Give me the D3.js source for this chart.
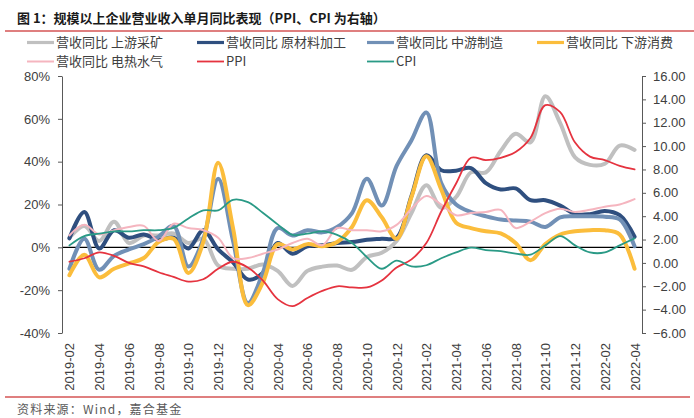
<!DOCTYPE html>
<html><head><meta charset="utf-8">
<script src="https://cdn.jsdelivr.net/npm/d3@7"></script>
<style>
body{margin:0;background:#fff}
text{font-family:Arial,"Liberation Sans","Noto Sans CJK SC",sans-serif}
.cjk{font-family:"Noto Sans CJK SC",sans-serif}
</style>
</head><body><svg id="c" width="694" height="418"></svg>
<script>
// ---- data ----
const months = ["2019-02","2019-03","2019-04","2019-05","2019-06","2019-07","2019-08","2019-09","2019-10","2019-11","2019-12",
"2020-01","2020-02","2020-03","2020-04","2020-05","2020-06","2020-07","2020-08","2020-09","2020-10","2020-11","2020-12",
"2021-01","2021-02","2021-03","2021-04","2021-05","2021-06","2021-07","2021-08","2021-09","2021-10","2021-11","2021-12",
"2022-01","2022-02","2022-03","2022-04"];
const upstream = [4.5,10,3,12,2,5.5,5.5,6.5,2,4,-8.5,-10,-10,-8,-11,-18,-11,-9,-8.5,-10.5,-4.5,-2.5,3,16,29,18.5,23.5,35,35,45,53,49,70.5,58,42,38.5,39,47.5,45.5];
const rawMaterial = [4.2,16.5,-0.5,8,4.5,6,3.5,4.5,-0.5,8,-1,-7,-15,-12,2,-3,0.5,1,2,2.5,3.5,4,4.5,24,43,36,35.8,37,30,27,27.5,22,22,19.5,15.5,15.5,17,15,5];
const midstream = [-10,4,-10.5,-4,-1,1.5,5,10,-9,4,32,3,-26,-12,9,5.5,8,7,9.5,16,32,19.5,38,50,63,30,20,16.5,14.5,13,12.5,12,9.5,14,14.5,14.5,14.3,13,0.5];
const downstream = [-13,-3.5,-14,-10,-7.5,-5,2.5,4,-12,2.5,39.5,9,-27,-16.5,1.5,-1,1.5,0.5,2.5,9.5,22,14,4,23.5,42.5,27,11.5,9,7.5,6.5,2,-6,1.5,6,7.5,8,8,6,-10];
const utilities = [5.5,10.5,6,8,9.5,10,3,11,9,8,4.5,-5,-5,-3,-1,2,4,1,9,8,8,7.5,10.5,18,24,20,15,16,16.5,17.5,9,12,16,18,16.5,17.5,19,20,22.5];
const ppi = [0.1,0.4,0.9,0.6,0.0,-0.3,-0.8,-1.2,-1.6,-1.4,-0.5,0.1,-0.4,-1.5,-3.1,-3.7,-3.0,-2.4,-2.0,-2.1,-2.1,-1.5,-0.4,0.3,1.7,4.4,6.8,9.0,8.8,9.0,9.5,10.7,13.5,12.9,10.3,9.1,8.8,8.3,8.0];
const cpi = [1.5,2.3,2.5,2.7,2.7,2.8,2.8,3.0,3.8,4.5,4.5,5.4,5.2,4.3,3.3,2.4,2.5,2.7,2.4,1.7,0.5,-0.5,0.2,-0.3,-0.2,0.4,0.9,1.3,1.1,1.0,0.8,0.7,1.5,2.3,1.5,0.9,0.9,1.5,2.1];
const leftTicks = [80,60,40,20,0,-20,-40];
const rightTicks = [16,14,12,10,8,6,4,2,0,-2,-4,-6];
const xTickLabels = ["2019-02","2019-04","2019-06","2019-08","2019-10","2019-12","2020-02","2020-04","2020-06","2020-08","2020-10","2020-12","2021-02","2021-04","2021-06","2021-08","2021-10","2021-12","2022-02","2022-04"];
const titleText = "图 1：规模以上企业营业收入单月同比表现（PPI、CPI 为右轴）";
const sourceText = "资料来源：Wind，嘉合基金";

const series = [
  {name:"营收同比 上游采矿", values:upstream, color:"#c0c0c0", w:4, axis:"L"},
  {name:"营收同比 原材料加工", values:rawMaterial, color:"#2f4f7f", w:4, axis:"L"},
  {name:"营收同比 中游制造", values:midstream, color:"#7190b6", w:4, axis:"L"},
  {name:"营收同比 下游消费", values:downstream, color:"#fbbd3c", w:4, axis:"L"},
  {name:"营收同比 电热水气", values:utilities, color:"#f5b5bf", w:2, axis:"L"},
  {name:"PPI", values:ppi, color:"#e5333f", w:1.8, axis:"R"},
  {name:"CPI", values:cpi, color:"#2a9a86", w:1.8, axis:"R"}
];

// ---- chart ----
const svg = d3.select("#c");
const x = d3.scalePoint().domain(months).range([62,642]).padding(0.5);
const yL = d3.scaleLinear().domain([-40,80]).range([333,76]);
const yR = d3.scaleLinear().domain([-6,16]).range([333,76]);
const axisColor = "#595959";

// title
svg.append("text").attr("class","cjk").attr("x",17).attr("y",23)
  .attr("font-size",13).attr("font-weight",700).attr("fill","#1a1a1a").text(titleText);
svg.append("line").attr("x1",5).attr("x2",694).attr("y1",31).attr("y2",31).attr("stroke","#c00000").attr("stroke-width",1.2);

// legend
const legPos = [[27,47],[197,47],[367,47],[537,47],[27,66],[197,66],[367,66]];
series.forEach((s,i)=>{
  const [lx,ly] = legPos[i];
  svg.append("line").attr("x1",lx).attr("x2",lx+27).attr("y1",ly-4.5).attr("y2",ly-4.5)
    .attr("stroke",s.color).attr("stroke-width",Math.min(s.w,3.2));
  svg.append("text").attr("class","cjk").attr("x",lx+29).attr("y",ly).attr("font-size",13)
    .attr("fill","#404040").text(s.name);
});

// zero line
svg.append("line").attr("x1",62).attr("x2",642).attr("y1",yL(0)).attr("y2",yL(0))
  .attr("stroke","#000").attr("stroke-width",1.3);

// axes
const gL = svg.append("g").attr("transform","translate(62,0)")
  .call(d3.axisLeft(yL).tickValues(leftTicks).tickFormat(d=>d+"%").tickSize(4).tickSizeOuter(0).tickPadding(8));
const gR = svg.append("g").attr("transform","translate(642,0)")
  .call(d3.axisRight(yR).tickValues(rightTicks).tickFormat(d3.format(".2f")).tickSize(4).tickSizeOuter(0).tickPadding(7));
[gL,gR].forEach(g=>{
  g.selectAll("path,line").attr("stroke",axisColor);
  g.selectAll("text").attr("fill","#404040").attr("font-size",13);
});

const gX = svg.append("g").attr("transform","translate(0,343)")
  .call(d3.axisBottom(x).tickValues(xTickLabels).tickSize(0));
gX.select(".domain").remove();
gX.selectAll("text").attr("x",0).attr("y",0).attr("dy","0.35em")
  .attr("transform","rotate(-90)").style("text-anchor","end")
  .attr("fill","#404040").attr("font-size",13);

// lines
series.forEach(s=>{
  const yS = s.axis==="L" ? yL : yR;
  const line = d3.line().x((d,i)=>x(months[i])).y(d=>yS(d)).curve(d3.curveCatmullRom.alpha(0.5));
  svg.append("path").datum(s.values).attr("d",line).attr("fill","none")
    .attr("stroke",s.color).attr("stroke-width",s.w).attr("stroke-linejoin","round").attr("stroke-linecap","round");
});

// footer
svg.append("line").attr("x1",5).attr("x2",690).attr("y1",397).attr("y2",397).attr("stroke","#c00000").attr("stroke-width",1.2);
svg.append("text").attr("class","cjk").attr("x",17).attr("y",414).attr("font-size",12).attr("letter-spacing",1.2)
  .attr("fill","#595959").text(sourceText);
</script></body></html>
